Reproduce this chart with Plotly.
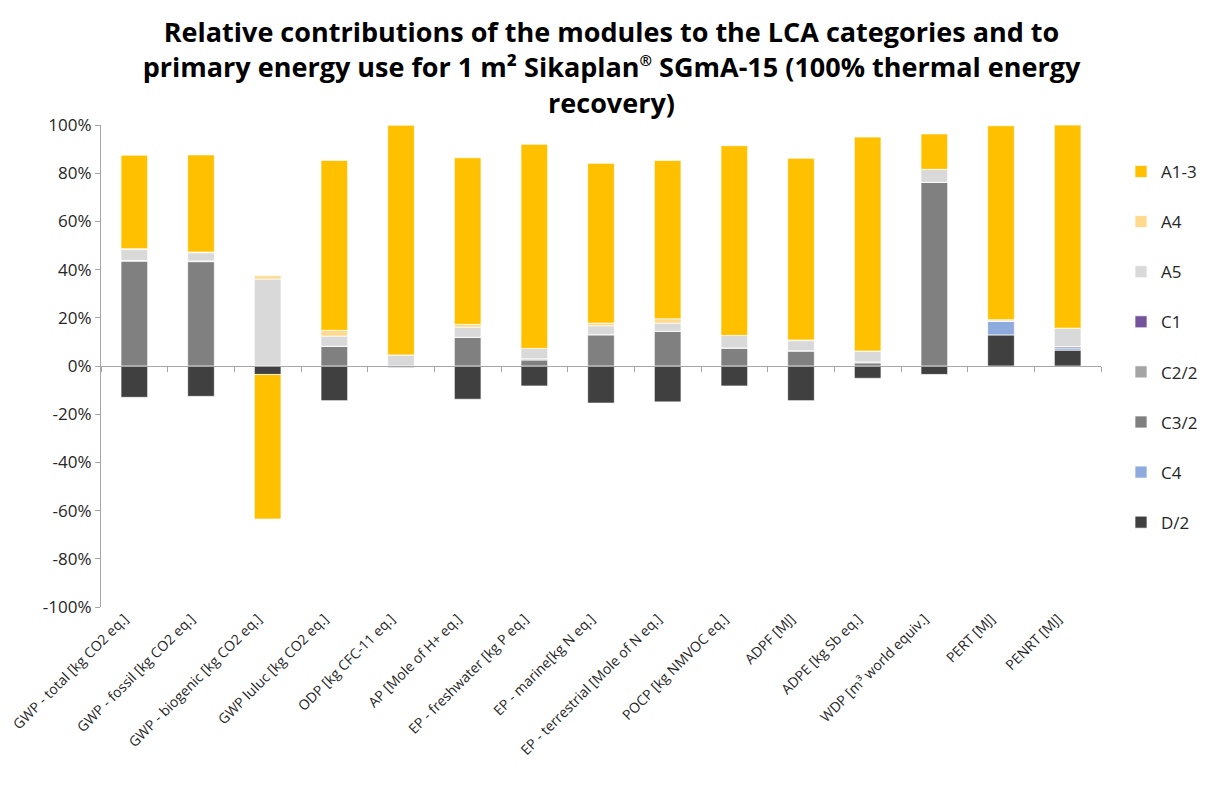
import plotly.graph_objects as go

categories = [
    "GWP - total [kg CO2 eq.]", "GWP - fossil [kg CO2 eq.]", "GWP - biogenic [kg CO2 eq.]",
    "GWP luluc [kg CO2 eq.]", "ODP [kg CFC-11 eq.]", "AP [Mole of H+ eq.]",
    "EP - freshwater [kg P eq.]", "EP - marine[kg N eq.]", "EP - terrestrial [Mole of N eq.]",
    "POCP [kg NMVOC eq.]", "ADPF [MJ]", "ADPE [kg Sb eq.]", "WDP [m³ world equiv.]",
    "PERT [MJ]", "PENRT [MJ]",
]

A1_3 = [38.8, 40.3, -60.0, 70.5, 95.3, 69.1, 84.7, 66.3, 65.7, 78.7, 75.4, 88.8, 14.7, 80.5, 84.3]
A4 = [0.4, 0.3, 1.4, 2.4, 0.0, 1.2, 0.0, 1.1, 1.8, 0.0, 0.3, 0.0, 0.0, 0.0, 0.0]
A5 = [4.5, 3.4, 36.1, 4.2, 4.6, 4.2, 4.3, 3.7, 3.4, 5.2, 4.2, 4.5, 5.4, 0.7, 7.6]
C1 = [0.0] * 15
C2_2 = [0.3, 0.3, 0.0, 0.0, 0.0, 0.0, 0.5, 0.0, 0.0, 0.0, 0.0, 0.4, 0.0, 0.0, 0.0]
C3_2 = [43.5, 43.3, 0.0, 8.2, 0.0, 11.9, 2.5, 13.0, 14.4, 7.5, 6.3, 1.3, 76.2, 0.0, 0.6]
C4 = [0.0] * 13 + [5.6, 0.9]
D_2 = [-13.0, -12.6, -3.5, -14.4, -0.6, -13.8, -8.3, -15.4, -14.9, -8.3, -14.4, -5.1, -3.5, 12.9, 6.6]

y_tickvals = [-100, -80, -60, -40, -20, 0, 20, 40, 60, 80, 100]
y_ticktext = ["-100%", "-80%", "-60%", "-40%", "-20%", "0%", "20%", "40%", "60%", "80%", "100%"]

# stacking order from zero outward (Excel series order)
series = [
    ("D/2", D_2, "#404040"),
    ("C4", C4, "#8FAADC"),
    ("C3/2", C3_2, "#808080"),
    ("C2/2", C2_2, "#A5A5A5"),
    ("C1", C1, "#75539A"),
    ("A5", A5, "#D9D9D9"),
    ("A4", A4, "#FFD98E"),
    ("A1-3", A1_3, "#FFC000"),
]

fig = go.Figure()
n = len(series)
for i, (name, vals, color) in enumerate(series):
    fig.add_trace(go.Bar(
        x=categories, y=vals, name=name, legendgroup=name, legendrank=n - i,
        marker=dict(color=color, line=dict(color="white", width=0.7)),
    ))

# helper axis carrying the zero line with boundary ticks
fig.add_trace(go.Scatter(x=categories, y=[None] * len(categories), xaxis="x2",
                         showlegend=False, hoverinfo="skip", mode="markers"))

font_family = "Open Sans, Liberation Sans, sans-serif"

fig.update_layout(
    width=1207, height=780,
    barmode="relative", bargap=0.6,
    paper_bgcolor="white", plot_bgcolor="white",
    margin=dict(l=93, r=108, t=117, b=181),
    font=dict(family=font_family, color="#262626"),
    title=dict(
        text="Relative contributions of the modules to the LCA categories and to<br>"
             "primary energy use for 1 m² Sikaplan<sup><span style='font-size:15px'>®</span></sup>"
             " SGmA-15 (100% thermal energy<br>"
             "recovery)",
        x=0.5, xanchor="center", y=0.956, yanchor="middle",
        font=dict(family=font_family, size=27, color="black", weight="bold"),
    ),
    xaxis=dict(
        type="category", categoryorder="array", categoryarray=categories,
        range=[-0.5, len(categories) - 0.5],
        showline=False, ticks="", showgrid=False, zeroline=False, automargin=False,
        tickangle=-45, ticklabelshift=-10, tickfont=dict(size=14, color="#262626"),
    ),
    xaxis2=dict(
        type="category", categoryorder="array", categoryarray=categories,
        range=[-0.5, len(categories) - 0.5],
        overlaying="x", anchor="free", position=0.5, side="bottom",
        showline=True, linecolor="#A6A6A6", linewidth=1.3,
        ticks="outside", tickson="boundaries", ticklen=5, tickcolor="#A6A6A6",
        showticklabels=False, showgrid=False, zeroline=False,
    ),
    yaxis=dict(
        range=[-100, 100], tickvals=y_tickvals, ticktext=y_ticktext,
        showline=True, linecolor="#A6A6A6", linewidth=1.3,
        ticks="outside", ticklen=5, tickcolor="#A6A6A6",
        showgrid=False, zeroline=False, automargin=False,
        tickfont=dict(size=17, color="#262626"),
    ),
    legend=dict(
        x=1.02, xanchor="left", y=0.94, yanchor="top",
        traceorder="grouped", tracegroupgap=25,
        font=dict(size=17, color="#262626"),
        bgcolor="rgba(0,0,0,0)",
    ),
)

fig.write_html("out.html")
